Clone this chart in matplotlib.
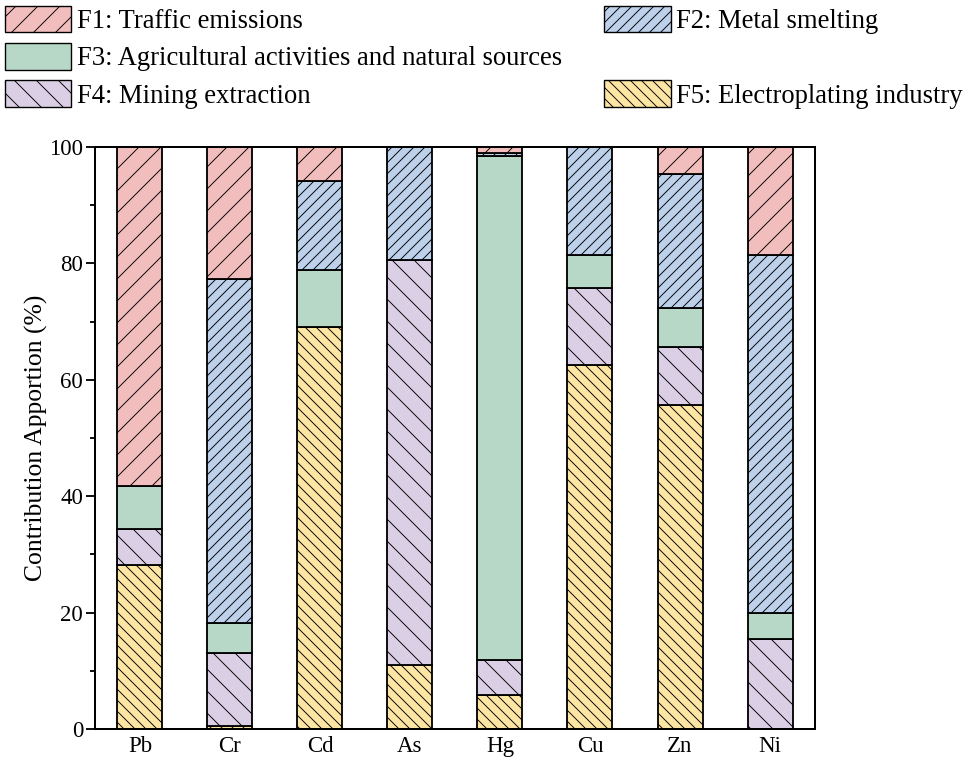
import numpy as np
import matplotlib.pyplot as plt
from matplotlib.patches import Patch

plt.rcParams['font.family'] = ['Liberation Serif', 'DejaVu Serif']
plt.rcParams['hatch.linewidth'] = 1.0

# heavy metals and source contributions (%)
metals = ['Pb', 'Cr', 'Cd', 'As', 'Hg', 'Cu', 'Zn', 'Ni']
f5_electroplating = [28.2, 0.5, 69.0, 11.0, 5.8, 62.5, 55.7, 0.0]
f4_mining = [6.1, 12.6, 0.0, 69.6, 6.1, 13.2, 9.9, 15.4]
f3_agri_natural = [7.4, 5.1, 9.9, 0.0, 86.6, 5.7, 6.8, 4.6]
f2_smelting = [0.0, 59.1, 15.3, 19.4, 0.4, 18.6, 22.9, 61.4]
f1_traffic = [58.3, 22.7, 5.8, 0.0, 1.1, 0.0, 4.7, 18.6]

labels = ['F1: Traffic emissions', 'F2: Metal smelting',
          'F3: Agricultural activities and natural sources',
          'F4: Mining extraction', 'F5: Electroplating industry']
colors = ['#f2bdbd', '#bdd1ea', '#b7d8c7', '#dbcfe5', '#fde5a3']
hatches = ['/', '//', '', '\\', '\\\\']

fig = plt.figure(figsize=(966 / 66, 759 / 66), dpi=66)
ax = fig.add_axes([0.0983, 0.0395, 0.7454, 0.7668])

x = np.arange(len(metals))
width = 0.5
bottom = np.zeros(len(metals))
stack = [(f5_electroplating, 4), (f4_mining, 3), (f3_agri_natural, 2),
         (f2_smelting, 1), (f1_traffic, 0)]
for vals, k in stack:
    vals = np.array(vals)
    ax.bar(x, vals, width, bottom=bottom, color=colors[k], hatch=hatches[k],
           edgecolor='black', linewidth=2.0)
    bottom += vals

ax.set_xlim(-0.5, 7.5)
ax.set_ylim(0, 100)
ax.set_xticks(x)
ax.set_xticklabels(metals, fontsize=25)
ax.tick_params(axis='x', length=0, pad=8)
ax.set_yticks(np.arange(0, 101, 20))
ax.set_yticks(np.arange(10, 100, 20), minor=True)
ax.tick_params(axis='y', which='major', length=10, width=2, labelsize=25, pad=3)
ax.tick_params(axis='y', which='minor', length=5, width=2)
ax.set_ylabel('Contribution Apportion (%)', fontsize=28, labelpad=1)
for s in ax.spines.values():
    s.set_linewidth(2.2)

# legend: column-major order, blank slot keeps F5 beside F4
handles = [Patch(facecolor=colors[k], hatch=hatches[k], edgecolor='black',
                 linewidth=1.5, label=labels[k]) for k in range(5)]
blank = Patch(facecolor='none', edgecolor='none', label='')
order = [handles[0], handles[2], handles[3], handles[1], blank, handles[4]]
fig.legend(handles=order, labels=[h.get_label() for h in order], ncol=2,
           loc='upper left', bbox_to_anchor=(5 / 966, 1 - 6 / 759),
           frameon=False, fontsize=29, handlelength=2.5, handleheight=1.15,
           handletextpad=0.2, labelspacing=0.34, columnspacing=1.6,
           borderpad=0, borderaxespad=0)

fig.savefig('out.png', dpi=66)
